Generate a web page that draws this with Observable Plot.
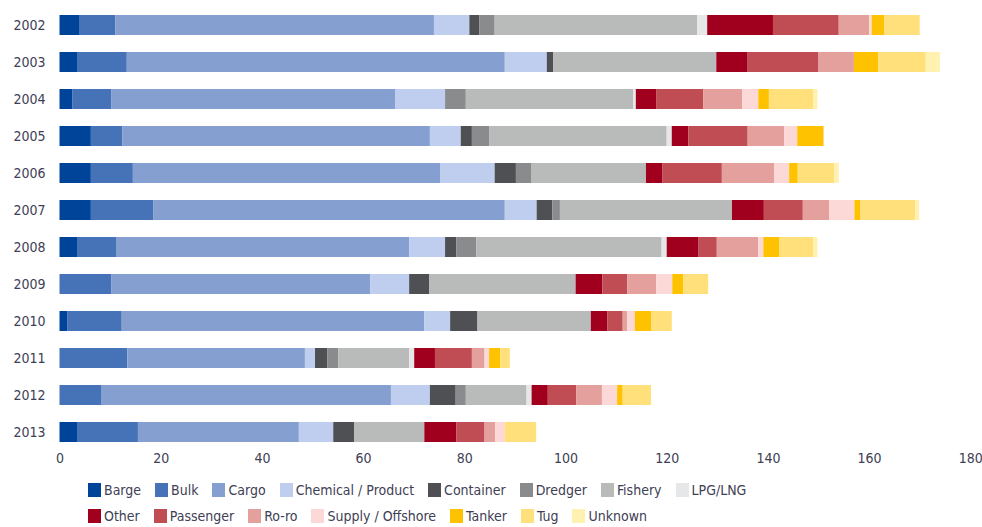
<!DOCTYPE html>
<html>
<head>
<meta charset="utf-8">
<script src="https://cdn.jsdelivr.net/npm/d3@7"></script>
<script src="https://cdn.jsdelivr.net/npm/@observablehq/plot@0.6"></script>
<style>
  html, body { margin: 0; padding: 0; background: #fff; }
  body { width: 982px; height: 527px; overflow: hidden; font-family: "DejaVu Sans Condensed", "Liberation Sans Narrow", sans-serif; color: #404055; }
  #legend { margin-top: 7px; padding-left: 88px; font-size: 14px; }
  .lrow { display: flex; align-items: center; height: 26px; }
  .item { display: flex; align-items: center; margin-right: 14px; }
  .sw { width: 13px; height: 14px; margin-right: 3px; }
</style>
</head>
<body>
<div id="chart"></div>
<div id="legend"></div>
<script>
const years = ["2002","2003","2004","2005","2006","2007","2008","2009","2010","2011","2012","2013"];
const types = ["Barge","Bulk","Cargo","Chemical / Product","Container","Dredger","Fishery","LPG/LNG","Other","Passenger","Ro-ro","Supply / Offshore","Tanker","Tug","Unknown"];
const colors = ["#00449a","#4673b7","#849fd0","#bfcdee","#4f5054","#8a8b8c","#b9bbbb","#e6e7e8","#a0001e","#c04c54","#e4a09d","#fcd9d6","#ffc200","#ffe07a","#fff2b0"];

const barge     = [4, 3.6, 2.5, 6.2, 6.2, 6.2, 3.6, 0, 1.6, 0, 0, 3.6];
const bulk      = [7, 9.7, 7.7, 6.2, 8.3, 12.3, 7.7, 10.2, 10.7, 13.4, 8.2, 11.9];
const cargo     = [63, 74.7, 56.2, 60.8, 60.7, 69.5, 57.8, 51.2, 59.8, 35.1, 57.3, 31.8];
const chemical  = [7, 8.3, 9.8, 6.1, 10.8, 6.3, 7.1, 7.7, 5.1, 2, 7.7, 6.8];
const container = [2, 1.3, 0, 2.2, 4.2, 3.1, 2.2, 4, 5.4, 2.4, 5.1, 4.1];
const dredger   = [3, 0, 4.1, 3.4, 3.1, 1.5, 4, 0, 0, 2.2, 2, 0];
const fishery   = [40, 32.2, 33.1, 35.1, 22.6, 34, 36.6, 28.9, 22.4, 14, 12, 13.9];
const lpg       = [2, 0, 0.5, 1, 0, 0, 1, 0, 0, 1, 1, 0];
const other     = [13, 6.2, 4.1, 3.3, 3.2, 6.3, 6.3, 5.3, 3.3, 4.1, 3.2, 6.3];
const passenger = [13, 14, 9.2, 11.7, 11.8, 7.7, 3.6, 4.9, 3, 7.3, 5.6, 5.6];
const roro      = [6, 7, 7.7, 7.2, 10.3, 5.2, 8.2, 5.7, 0.9, 2.5, 5.1, 2.1];
const supply    = [0.5, 0, 3.2, 2.6, 3, 5, 1, 3.2, 1.5, 0.9, 3, 1.9];
const tanker    = [2.5, 4.8, 2.1, 5.2, 1.7, 1.2, 3.2, 2.2, 3.3, 2.2, 1.1, 0];
const tug       = [7, 9.4, 8.8, 0, 7.2, 10.8, 6.7, 4.9, 4, 1.9, 5.6, 6.2];
const unknown   = [0, 2.8, 0.8, 0, 0.9, 0.8, 0.8, 0, 0, 0, 0, 0];
const xTicks = [0, 20, 40, 60, 80, 100, 120, 140, 160, 180];

const series = [barge, bulk, cargo, chemical, container, dredger, fishery, lpg, other, passenger, roro, supply, tanker, tug, unknown];
const rows = [];
years.forEach((y, i) => {
  types.forEach((t, j) => {
    rows.push({year: y, type: t, value: series[j][i]});
  });
});

const chart = Plot.plot({
  width: 982,
  height: 470,
  marginTop: 6.5,
  marginBottom: 19.5,
  marginLeft: 59.5,
  marginRight: 11.7,
  style: {fontFamily: "DejaVu Sans Condensed, Liberation Sans Narrow, sans-serif", fontSize: "14px", color: "#404055", background: "#fff"},
  x: {domain: [0, 180], ticks: xTicks},
  y: {domain: years, paddingInner: 0.45, paddingOuter: 0.225},
  color: {domain: types, range: colors},
  marks: [
    Plot.barX(rows, {y: "year", x: "value", fill: "type", order: types}),
    Plot.axisX({ticks: xTicks, tickSize: 0, tickPadding: 2, label: null}),
    Plot.axisY({tickSize: 0, tickPadding: 14.5, label: null})
  ]
});
document.getElementById("chart").appendChild(chart);

const legend = document.getElementById("legend");
[types.slice(0, 8), types.slice(8)].forEach(group => {
  const row = document.createElement("div");
  row.className = "lrow";
  group.forEach(t => {
    const it = document.createElement("div");
    it.className = "item";
    const sw = document.createElement("div");
    sw.className = "sw";
    sw.style.background = colors[types.indexOf(t)];
    const lab = document.createElement("span");
    lab.textContent = t;
    it.appendChild(sw);
    it.appendChild(lab);
    row.appendChild(it);
  });
  legend.appendChild(row);
});
</script>
</body>
</html>
